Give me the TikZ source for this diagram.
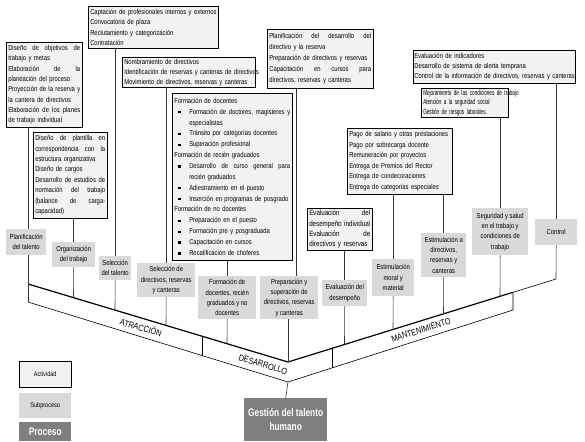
\documentclass[tikz,border=0pt]{standalone}
\usepackage{fontspec}
\setmainfont{Liberation Sans}[FakeStretch=0.82]
\newfontfamily\narrowF{Liberation Sans}[FakeStretch=0.63]
\newfontfamily\procF{Liberation Sans}[FakeStretch=0.76]
\usetikzlibrary{shadows}
\definecolor{actfill}{HTML}{F2F2F2}
\definecolor{subfill}{HTML}{D9D9D9}
\definecolor{procfill}{HTML}{7F7F7F}
\hyphenpenalty=10000
\exhyphenpenalty=10000
\newlength\jw
\newcommand\aF{\fontsize{7.2}{10.4}\selectfont}
\newcommand\sF{\fontsize{7.2}{10.4}\selectfont}
\newcommand\pF{\procF\bfseries\fontsize{11}{14.5}\selectfont}
\newcommand\lF{\fontsize{9}{10}\selectfont}
\newcommand\myJ[1]{\leavevmode\hbox to \jw{\spaceskip=0.25em plus 1fil\relax #1}}
\newcommand\myBul{\makebox[15bp][l]{\hspace*{4bp}\rule[0.8bp]{2.3bp}{2.3bp}}}
\newcommand\myInd{\leavevmode\hspace*{15bp}}
\newcommand\myJB[1]{\leavevmode\hbox to \dimexpr\jw-15bp\relax{\spaceskip=0.25em plus 1fil\relax #1}}
\begin{document}
\begin{tikzpicture}[x=1bp,y=-1bp,
  act/.style={draw=black, line width=0.5bp, fill=actfill, anchor=north west, align=left,
    inner xsep=2bp, inner ysep=1.5bp, font=\aF,
    drop shadow={shadow xshift=1.1bp, shadow yshift=-1.1bp, fill=black!60, opacity=1}},
  sub/.style={fill=subfill, anchor=north west, align=center, inner sep=0pt, font=\sF},
  proc/.style={fill=procfill, anchor=north west, align=center, inner sep=0pt, text=white, font=\pF},
  upper/.style={line width=1.2bp},
  lower/.style={line width=0.6bp},
  conn/.style={line width=0.6bp, draw=black!80},
  lab/.style={font=\lF, inner sep=0pt}]
\useasboundingbox (0,0) rectangle (585,442);

% ---------- activity boxes ----------
\node[act, text width=72bp, minimum height=85bp] (A1) at (6,42)
 {\jw=72bp\myJ{Diseño de objetivos de}\\trabajo y metas\\\myJ{Elaboración de la}\\planeación del proceso\\\myJ{Proyección de la reserva y}\\la cantera de directivos\\\myJ{Elaboración de los planes}\\de trabajo individual};
\node[act, text width=70bp, minimum height=86bp] (A2) at (33,132)
 {\jw=70bp\myJ{Diseño de plantilla en}\\\myJ{correspondencia con la}\\estructura organizativa\\Diseño de cargos\\\myJ{Desarrollo de estudios de}\\\myJ{normación del trabajo}\\\myJ{(balance de carga-}\\capacidad)};
\node[act, text width=126bp, minimum height=42bp] (A3) at (88,6)
 {\mbox{Captación de profesionales internos y externos}\\Convocatoria de plaza\\Reclutamiento y categorización\\Contratación};
\node[act, text width=129bp, minimum height=30bp, font={\fontsize{7.2}{10}\selectfont}, inner ysep=1bp] (A4) at (122,57)
 {Nombramiento de directivos\\\mbox{Identificación de reservas y canteras de directivos}\\Movimiento de directivos, reservas y canteras};
\node[act, text width=116bp, minimum height=167bp, font={\fontsize{7.2}{10.9}\selectfont}] (A5) at (172,93)
 {\jw=116bp Formación de docentes\\
  \myBul\myJB{Formación de doctores, magisteres y}\\
  \myInd especialistas\\
  \myBul Tránsito por categorías docentes\\
  \myBul Superación profesional\\
  Formación de recién graduados\\
  \myBul\myJB{Desarrollo de curso general para}\\
  \myInd recién graduados\\
  \myBul Adiestramiento en el puesto\\
  \myBul Inserción en programas de posgrado\\
  Formación de no docentes\\
  \myBul Preparación en el puesto\\
  \myBul Formación pre y posgraduada\\
  \myBul Capacitación en cursos\\
  \myBul Recalificación de choferes};
\node[act, text width=102bp, minimum height=59bp, font={\fontsize{7.2}{10.9}\selectfont}] (A6) at (267,29)
 {\jw=102bp\myJ{Planificación del desarrollo del}\\directivo y la reserva\\\mbox{Preparación de directivos y reservas}\\\myJ{Capacitación en cursos para}\\directivos, reservas y canteras};
\node[act, text width=61bp, minimum height=42bp, font={\fontsize{7.6}{10.5}\selectfont}] (A7) at (307,208)
 {\jw=61bp\myJ{Evaluación del}\\\mbox{desempeño individual}\\\myJ{Evaluación de}\\directivos y reservas};
\node[act, text width=101bp, minimum height=66bp, font={\fontsize{7.2}{10.5}\selectfont}] (A8) at (347,128)
 {\mbox{Pago de salario y otras prestaciones}\\Pago por sobrecarga docente\\Remuneración por proyectos\\Entrega de Premios del Rector\\Entrega de condecoraciones\\Entrega de categorías especiales};
\node[act, text width=83bp, minimum height=29bp, inner ysep=1bp, font={\narrowF\fontsize{7.4}{9.6}\selectfont}] (A9) at (421,88)
 {\mbox{Mejoramiento de las condiciones de trabajo}\\Atención a la seguridad social\\Gestión de riesgos laborales.};
\node[act, text width=160bp, inner xsep=1bp, minimum height=33bp, font={\fontsize{7.2}{9.7}\selectfont}] (A10) at (413,50)
 {Evaluación de indicadores\\Desarrollo de sistema de alerta temprana\\\mbox{Control de la información de directivos, reservas y canteras}};

% ---------- subprocess boxes ----------
\node[sub, minimum width=40bp, minimum height=26bp] (S1) at (6,229) {Planificación\\del talento};
\node[sub, minimum width=43bp, minimum height=25bp] (S2) at (52,242) {Organización\\del trabajo};
\node[sub, minimum width=32bp, minimum height=24bp] (S3) at (99,256) {Selección\\del talento};
\node[sub, minimum width=58bp, minimum height=34bp] (S4) at (137,263) {Selección de\\directivos, reservas\\y canteras};
\node[sub, minimum width=58bp, minimum height=43bp] (S5) at (198,276) {Formación de\\docentes, recién\\graduados y no\\docentes};
\node[sub, minimum width=58bp, minimum height=43bp] (S6) at (260,276) {Preparación y\\superación de\\directivos, reservas\\y canteras};
\node[sub, minimum width=45bp, minimum height=26bp] (S7) at (322,280) {Evaluación del\\desempeño};
\node[sub, minimum width=42bp, minimum height=37bp] (S8) at (372,259) {Estimulación\\moral y\\material};
\node[sub, minimum width=45bp, minimum height=44bp] (S9) at (421,233) {Estimulación a\\directivos,\\reservas y\\canteras};
\node[sub, minimum width=56bp, minimum height=47bp] (S10) at (472,208) {Seguridad y salud\\en el trabajo y\\condiciones de\\trabajo};
\node[sub, minimum width=42bp, minimum height=26bp] (S11) at (535,219) {Control};

% ---------- legend and process ----------
\node[act, minimum width=52bp, minimum height=26bp, align=center, font={\fontsize{6.8}{8}\selectfont}] (LA) at (19,361) {Actividad};
\node[sub, minimum width=52bp, minimum height=25bp, font={\fontsize{6.8}{8}\selectfont}] (LS) at (19,393) {Subproceso};
\node[proc, minimum width=52bp, minimum height=19bp] (LP) at (19,422) {Proceso};
\node[proc, minimum width=83bp, minimum height=43bp] (G) at (244,398) {Gestión del talento\\humano};

% ---------- band coordinates ----------
\coordinate (L1) at (28,284);
\coordinate (L2) at (28,302);
\coordinate (V1) at (288,362);
\coordinate (V2) at (288,382);
\coordinate (Rc) at (513,292.3);
\coordinate (R2) at (513,310);
\coordinate (R1) at (556,279);
\coordinate (f2) at (73.5,297.65);
\coordinate (f3) at (115,310.1);
\coordinate (f4) at (166,325.4);
\coordinate (f5) at (227,343.7);
\coordinate (f7) at (344.5,344.5);
\coordinate (f8) at (393,329.5);
\coordinate (f9) at (443.5,314.0);
\coordinate (f10) at (500,296.3);
\coordinate (p6) at (296,200);
\coordinate (s1a) at (202,336.2);
\coordinate (s1b) at (202,355.5);
\coordinate (s2a) at (332,348.4);
\coordinate (s2b) at (332,367.9);

\draw[lower] (L2) -- (V2) -- (R2) -- (Rc);
\draw[upper] (L1) -- (V1) -- (Rc);
\draw[lower] (Rc) -- (R1);
\draw[lower] (s1a) -- (s1b);
\draw[lower] (s2a) -- (s2b);

% ---------- connectors ----------
\draw[conn] (A1.south -| L2) -- (S1.north -| L2);
\draw[conn] (S1.south -| L2) -- (L2);
\draw[conn] (A2.south -| S2.north) -- (S2.north);
\draw[conn] (S2.south) -- (f2);
\draw[conn] (A3.south -| S3.north) -- (S3.north);
\draw[conn] (S3.south) -- (f3);
\draw[conn] (A4.south -| S4.north) -- (S4.north);
\draw[conn] (S4.south) -- (f4);
\draw[conn] (A5.south -| S5.north) -- (S5.north);
\draw[conn] (S5.south) -- (f5);
\draw[conn] (A6.south -| p6) -- (S6.north -| p6);
\draw[conn] (S6.south -| V1) -- (V1);
\draw[conn] (A7.south -| S7.north) -- (S7.north);
\draw[conn] (S7.south) -- (f7);
\draw[conn] (A8.south -| S8.north) -- (S8.north);
\draw[conn] (S8.south) -- (f8);
\draw[conn] (A8.south -| S9.north) -- (S9.north);
\draw[conn] (S9.south) -- (f9);
\draw[conn] (A9.south -| S10.north) -- (S10.north);
\draw[conn] (S10.south) -- (f10);
\draw[conn] (A10.south -| S11.north) -- (S11.north);
\draw[conn] (S11.south) -- (R1);
\draw[conn] (V2) -- (G.north);

% ---------- band labels ----------
\node[lab, rotate=-16.7] (tA) at (141,327.3) {ATRACCIÓN};
\node[lab, rotate=-16.7] (tD) at (263,364.5) {DESARROLLO};
\node[lab, rotate=17.5] (tM) at (421,330.1) {MANTENIMIENTO};
\end{tikzpicture}
\end{document}
